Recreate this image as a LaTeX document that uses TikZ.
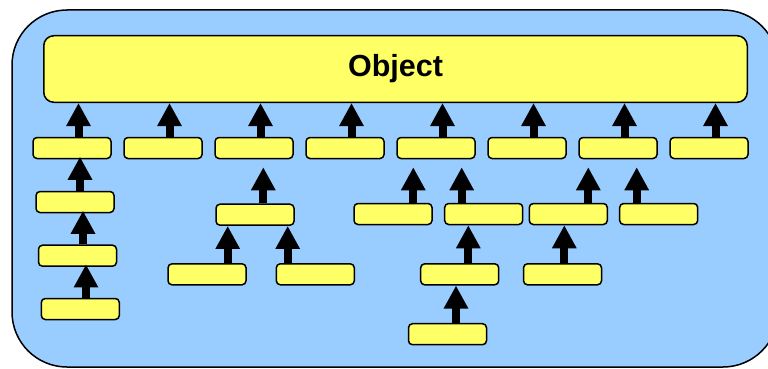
\documentclass[tikz,border=0pt]{standalone}
\usepackage{fontspec}
\setmainfont{Liberation Sans}
\usetikzlibrary{arrows.meta, positioning}

\definecolor{paneblue}{RGB}{153,204,255}
\definecolor{clsyellow}{RGB}{255,255,102}

\tikzset{
  cls/.style = {draw, line width=1.5pt, fill=clsyellow, rounded corners=4pt,
                minimum width=78pt, minimum height=21pt, inner sep=0pt},
  inh/.style = {line width=8pt, -{Triangle[width=23pt, length=23pt]}}
}

\begin{document}
\begin{tikzpicture}[x=1pt, y=-1pt]
    \useasboundingbox (0,0) rectangle (768,369);
    \begin{scope}
        \clip (0,0) rectangle (768,369);
        \draw [line width=1.5pt, fill=paneblue, rounded corners=55pt] (12,10) rectangle (778,367);
    \end{scope}

    % root
    \node (obj) [cls, rounded corners=10pt, minimum width=703.5pt, minimum height=66.5pt,
                 font=\bfseries\fontsize{30.5}{36}\selectfont] at (395.5,69) {Object};

    % first level
    \node (c1) [cls] at (72,148) {};
    \node (c2) [cls, right = 11.5pt of c1] {};
    \node (c3) [cls, right = 11.5pt of c2] {};
    \node (c4) [cls, right = 11.5pt of c3] {};
    \node (c5) [cls, right = 11.5pt of c4] {};
    \node (c6) [cls, right = 11.5pt of c5] {};
    \node (c7) [cls, right = 11.5pt of c6] {};
    \node (c8) [cls, right = 11.5pt of c7] {};

    % left chain
    \node (a1) [cls] at (75,202) {};
    \node (a2) [cls] at (77.5,255.7) {};
    \node (a3) [cls] at (80.3,309) {};

    % middle group
    \node (d1) [cls] at (255,214.7) {};
    \node (e1) [cls] at (207,274.3) {};
    \node (e2) [cls] at (315.3,274.3) {};

    % right groups
    \node (g1) [cls] at (393,214) {};
    \node (g2) [cls] at (483.7,214) {};
    \node (g3) [cls] at (568.3,214) {};
    \node (g4) [cls] at (658.7,214) {};
    \node (k1) [cls] at (459.7,274.3) {};
    \node (k2) [cls] at (562.5,274.3) {};
    \node (m1) [cls] at (447.5,334.2) {};

    \foreach \c in {c1,c2,c3,c4,c5,c6,c7,c8}
        \draw [inh] ([xshift=6.5pt]\c.north) -- ([xshift=6.5pt]\c.north |- obj.south);

    \draw [inh, shorten >=-2.5pt] ([xshift=5pt]a1.north) -- ([xshift=5pt]a1.north |- c1.south);
    \draw [inh, shorten >=-2.5pt] ([xshift=5.5pt]a2.north) -- ([xshift=5.5pt]a2.north |- a1.south);
    \draw [inh, shorten >=-2.5pt] ([xshift=5.7pt]a3.north) -- ([xshift=5.7pt]a3.north |- a2.south);

    \draw [inh, shorten >=8pt] ([xshift=8.3pt]d1.north) -- ([xshift=8.3pt]d1.north |- c3.south);
    \draw [inh] ([xshift=20.7pt]e1.north) -- ([xshift=20.7pt]e1.north |- d1.south);
    \draw [inh] ([xshift=-27.6pt]e2.north) -- ([xshift=-27.6pt]e2.north |- d1.south);

    \draw [inh, shorten >=8pt] ([xshift=20.3pt]g1.north) -- ([xshift=20.3pt]g1.north |- c5.south);
    \draw [inh, shorten >=8pt] ([xshift=-22pt]g2.north) -- ([xshift=-22pt]g2.north |- c5.south);
    \draw [inh, shorten >=8pt] ([xshift=20pt]g3.north) -- ([xshift=20pt]g3.north |- c7.south);
    \draw [inh, shorten >=8pt] ([xshift=-22pt]g4.north) -- ([xshift=-22pt]g4.north |- c7.south);
    \draw [inh] ([xshift=8.6pt]k1.north) -- ([xshift=8.6pt]k1.north |- g2.south);
    \draw [inh] ([xshift=1.8pt]k2.north) -- ([xshift=1.8pt]k2.north |- g3.south);
    \draw [inh] ([xshift=8.5pt]m1.north) -- ([xshift=8.5pt]m1.north |- k1.south);
\end{tikzpicture}
\end{document}
